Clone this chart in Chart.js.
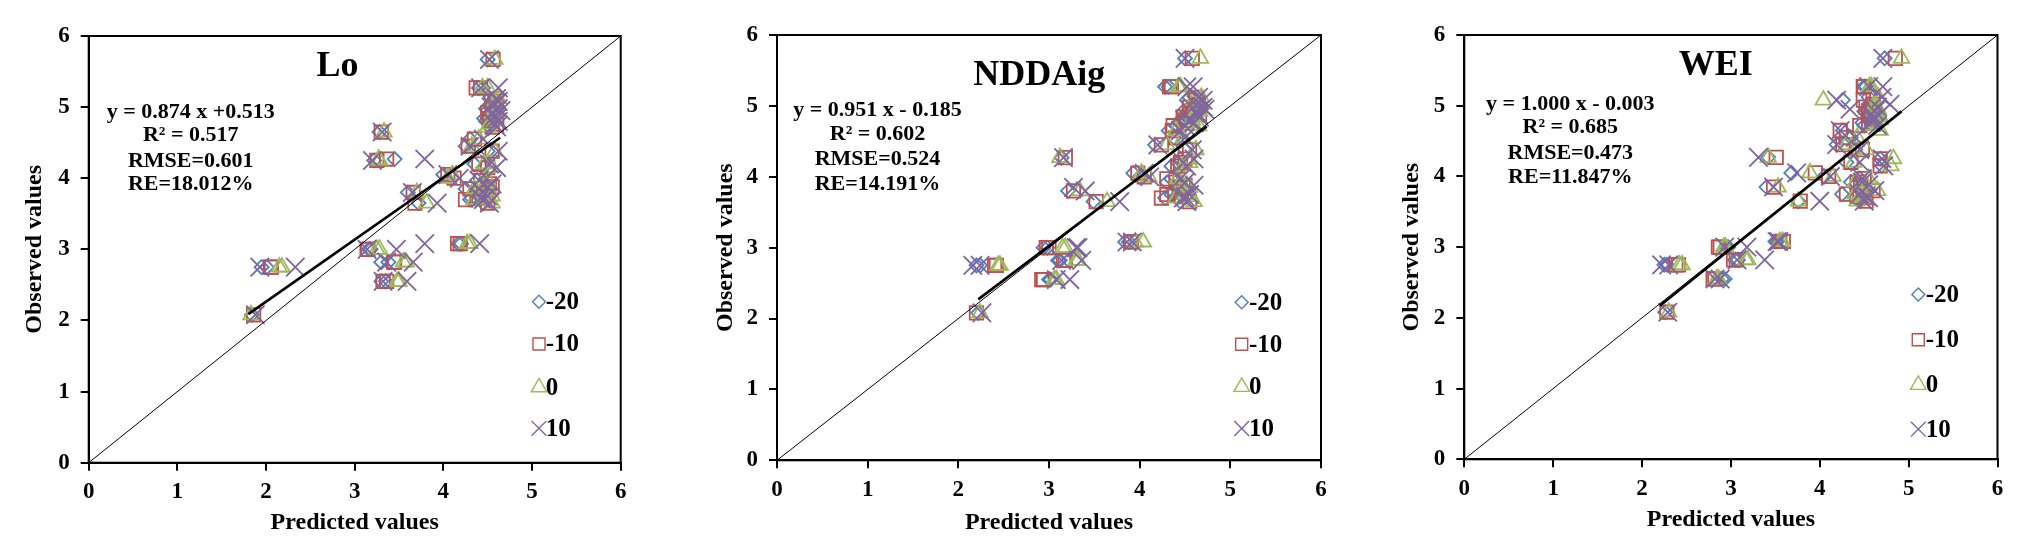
<!DOCTYPE html>
<html>
<head>
<meta charset="utf-8">
<title>Observed vs predicted</title>
<script src="https://cdn.jsdelivr.net/npm/chart.js@4.4.1/dist/chart.umd.min.js"></script>
<style>
  html, body { margin: 0; padding: 0; background: #fff; }
  body { width: 2032px; height: 557px; position: relative; overflow: hidden; }
  canvas { position: absolute; top: 0; }
</style>
</head>
<body>
<canvas id="lo"></canvas>
<canvas id="nddaig"></canvas>
<canvas id="wei"></canvas>
<script>
'use strict';

//// ===== Data ===== ////
// observed values, shared by every panel and series
const observed = [5.67, 5.27, 5.27, 5.08, 5.02, 4.95, 4.88, 4.80, 4.72, 4.65, 4.45, 4.38, 4.27, 4.25, 4.15, 4.05, 4.00, 3.92,
    3.85, 3.80, 3.75, 3.70, 3.65, 3.65, 3.08, 3.08, 3.00, 3.00, 2.82, 2.82, 2.75, 2.75, 2.55, 2.55, 2.08,
    5.12, 4.98, 4.92, 4.84, 4.76, 4.55, 4.20, 3.97, 3.88, 3.72];

// Lo - predicted values per series
const loM20 = [4.50, 4.40, 4.45, 4.55, 4.52, 4.50, 4.55, 4.48, 4.52, 3.28, 4.25, 4.50, 3.45, 3.22, 4.45, 4.00, 4.10, 4.45,
    4.25, 3.60, 4.40, 4.30, 3.72, 4.45, 4.17, 4.20, 3.16, 3.18, 3.30, 3.38, 2.01, 1.95, 3.30, 3.35, 1.84,
    4.52, 4.48, 4.58, 4.46, 4.55, 4.30, 4.35, 4.38, 4.48, 4.32];
const loM10 = [4.56, 4.37, 4.42, 4.60, 4.58, 4.56, 4.60, 4.52, 4.55, 3.30, 4.28, 4.55, 3.36, 3.25, 4.50, 4.05, 4.12, 4.52,
    4.30, 3.66, 4.48, 4.25, 3.68, 4.50, 4.16, 4.19, 3.14, 3.15, 3.44, 3.45, 2.06, 2.05, 3.32, 3.36, 1.86,
    4.58, 4.55, 4.50, 4.52, 4.60, 4.35, 4.40, 4.42, 4.55, 4.38];
const lo0 = [4.58, 4.44, 4.50, 4.58, 4.62, 4.60, 4.55, 4.58, 4.50, 3.33, 4.32, 4.58, 3.27, 3.28, 4.55, 4.10, 4.05, 4.48,
    4.35, 3.70, 4.55, 4.35, 3.81, 4.55, 4.27, 4.30, 3.25, 3.28, 3.55, 3.58, 2.18, 2.15, 3.50, 3.48, 1.83,
    4.62, 4.58, 4.62, 4.56, 4.52, 4.40, 4.46, 4.50, 4.42, 4.46];
const loP10 = [4.52, 4.42, 4.62, 4.62, 4.55, 4.65, 4.58, 4.62, 4.60, 3.31, 4.30, 4.62, 3.79, 3.20, 4.60, 4.05, 4.18, 4.55,
    4.40, 3.65, 4.50, 4.45, 3.93, 4.52, 4.41, 3.79, 3.14, 3.47, 3.36, 3.66, 1.93, 2.33, 3.32, 3.59, 1.88,
    4.60, 4.62, 4.55, 4.60, 4.58, 4.45, 4.52, 4.40, 4.50, 4.42];

// NDDAig
const ndM20 = [4.50, 4.28, 4.32, 4.52, 4.58, 4.55, 4.62, 4.45, 4.40, 4.32, 4.17, 4.50, 3.14, 4.45, 4.35, 3.93, 4.00, 4.30,
    4.40, 3.21, 4.35, 4.28, 3.49, 4.45, 3.84, 3.88, 2.94, 2.98, 3.10, 3.12, 2.24, 2.20, 3.00, 3.02, 2.22,
    4.55, 4.60, 4.48, 4.52, 4.45, 4.38, 4.42, 4.35, 4.42, 4.40];
const ndM10 = [4.58, 4.33, 4.35, 4.62, 4.65, 4.60, 4.66, 4.50, 4.37, 4.36, 4.24, 4.55, 3.18, 4.50, 4.42, 3.98, 4.05, 4.40,
    4.48, 3.27, 4.30, 4.24, 3.52, 4.55, 3.91, 3.90, 2.97, 3.00, 3.16, 3.18, 2.40, 2.42, 2.92, 2.94, 2.20,
    4.62, 4.55, 4.58, 4.48, 4.52, 4.40, 4.45, 4.30, 4.50, 4.46];
const nd0 = [4.67, 4.43, 4.45, 4.60, 4.68, 4.65, 4.60, 4.58, 4.65, 4.40, 4.30, 4.62, 3.12, 4.55, 4.48, 4.02, 4.10, 4.45,
    4.55, 3.34, 4.50, 4.40, 3.64, 4.60, 4.04, 3.95, 3.18, 3.15, 3.32, 3.30, 2.46, 2.44, 3.08, 3.06, 2.24,
    4.68, 4.62, 4.66, 4.60, 4.58, 4.48, 4.55, 4.42, 4.52, 4.55];
const ndP10 = [4.50, 4.52, 4.59, 4.70, 4.62, 4.72, 4.65, 4.55, 4.50, 4.45, 4.20, 4.58, 3.16, 4.60, 4.52, 4.05, 4.11, 4.50,
    3.27, 3.40, 4.55, 4.48, 3.78, 4.52, 3.86, 3.92, 3.32, 3.30, 3.14, 3.36, 2.16, 2.24, 3.08, 3.23, 2.26,
    4.65, 4.70, 4.62, 4.66, 4.60, 4.50, 4.48, 4.45, 4.60, 4.50];

// WEI
const weiM20 = [4.73, 4.50, 4.52, 4.26, 4.55, 4.52, 4.60, 4.55, 4.50, 4.26, 4.19, 4.40, 3.42, 4.68, 4.70, 3.68, 4.05, 4.35,
    3.40, 4.55, 4.25, 4.40, 3.76, 4.45, 3.50, 3.52, 2.97, 2.95, 3.05, 3.08, 2.28, 2.25, 2.93, 2.90, 2.26,
    4.55, 4.58, 4.50, 4.62, 4.48, 4.35, 4.30, 4.45, 4.40, 4.48];
const weiM10 = [4.85, 4.49, 4.50, 4.49, 4.60, 4.58, 4.55, 4.62, 4.45, 4.23, 4.26, 4.48, 3.51, 4.68, 4.68, 3.95, 4.10, 4.42,
    3.48, 4.60, 4.30, 4.50, 3.78, 4.52, 3.59, 3.55, 2.86, 2.88, 3.03, 3.06, 2.41, 2.38, 2.80, 2.82, 2.28,
    4.60, 4.52, 4.56, 4.58, 4.55, 4.30, 4.35, 4.50, 4.46, 4.42];
const wei0 = [4.92, 4.56, 4.58, 4.04, 4.62, 4.66, 4.62, 4.68, 4.60, 4.68, 4.30, 4.52, 3.42, 4.83, 4.80, 3.89, 4.15, 4.40,
    3.53, 4.65, 4.40, 4.48, 3.76, 4.42, 3.55, 3.58, 2.92, 2.94, 3.19, 3.17, 2.45, 2.42, 2.84, 2.86, 2.30,
    4.66, 4.62, 4.60, 4.68, 4.62, 4.42, 4.38, 4.55, 4.52, 4.50];
const weiP10 = [4.71, 4.55, 4.71, 4.19, 4.79, 4.34, 4.58, 4.60, 4.65, 4.23, 4.19, 4.45, 3.31, 4.70, 4.72, 3.74, 4.12, 4.48,
    3.48, 4.62, 4.45, 4.55, 4.00, 4.50, 3.52, 3.54, 2.93, 3.18, 3.07, 3.38, 2.22, 2.30, 2.82, 2.88, 2.29,
    4.70, 4.65, 4.62, 4.60, 4.58, 4.40, 4.45, 4.48, 4.55, 4.52];

// fitted line end points as drawn
const fitX = [[1.80, 4.64], [2.22, 4.74], [2.20, 4.92]];
const fitY = [[2.09, 4.57], [2.27, 4.71], [2.17, 4.92]];

const seriesNames = ['-20', '-10', '0', '10'];
const axisTicks = [0, 1, 2, 3, 4, 5, 6];
const titles = ['Lo', 'NDDAig', 'WEI'];
const stats = [
    ['y = 0.874 x +0.513', 'R\u00B2 = 0.517', 'RMSE=0.601', 'RE=18.012%'],
    ['y = 0.951 x - 0.185', 'R\u00B2 = 0.602', 'RMSE=0.524', 'RE=14.191%'],
    ['y = 1.000 x - 0.003', 'R\u00B2 = 0.685', 'RMSE=0.473', 'RE=11.847%']
];

//// ===== Look ===== ////
const FONT = '"Liberation Serif", "Times New Roman", serif';
const seriesColors = ['#4F81BD', '#C0504D', '#9BBB59', '#8064A2'];
const seriesStyles = ['rectRot', 'rect', 'triangle', 'crossRot'];
const seriesRadius = [7, 9.5, 9, 13];
const legendRadius = [6.5, 8.5, 9, 10.5];

// placement of each panel on the page, px
const layouts = [
    {id: 'lo', left: 0, width: 680, axisW: 88.7, padR: 59.3, padT: 36, axisH: 94.3, yTitlePad: 20.6, xTitlePad: 19.8,
        titleX: 248.8, titleY: 39.7, statX: 102, statY: [76, 99, 125.7, 148],
        legX: 450.3, legTextX: 457, legY: [265.7, 308, 351.3, 392.3]},
    {id: 'nddaig', left: 690, width: 680, axisW: 87, padR: 49, padT: 35, axisH: 96.7, yTitlePad: 21.3, xTitlePad: 19.8,
        titleX: 262.2, titleY: 50, statX: 100.5, statY: [75, 99.4, 124, 148.9],
        legX: 464.7, legTextX: 472, legY: [267.3, 309.2, 351.9, 393.5]},
    {id: 'wei', left: 1380, width: 652, axisW: 84.3, padR: 34.5, padT: 35, axisH: 97.7, yTitlePad: 17.2, xTitlePad: 22.9,
        titleX: 251.5, titleY: 40, statX: 106, statY: [69.6, 92.7, 118.2, 142.4],
        legX: 454, legTextX: 461.4, legY: [259.4, 304.8, 349.9, 394.2]}
];

const panelSeries = [
    [loM20, loM10, lo0, loP10],
    [ndM20, ndM10, nd0, ndP10],
    [weiM20, weiM10, wei0, weiP10]
];

function drawMarker(ctx, style, x, y, r) {
    const s = r * Math.SQRT1_2;
    ctx.beginPath();
    if (style === 'rectRot') {
        ctx.moveTo(x - r, y); ctx.lineTo(x, y - r); ctx.lineTo(x + r, y); ctx.lineTo(x, y + r); ctx.closePath();
    } else if (style === 'rect') {
        ctx.rect(x - s, y - s, 2 * s, 2 * s);
    } else if (style === 'triangle') {
        ctx.moveTo(x, y - r); ctx.lineTo(x + r * 0.866, y + r / 2); ctx.lineTo(x - r * 0.866, y + r / 2); ctx.closePath();
    } else {
        ctx.moveTo(x - s, y - s); ctx.lineTo(x + s, y + s);
        ctx.moveTo(x + s, y - s); ctx.lineTo(x - s, y + s);
    }
    ctx.stroke();
}

// frame, title, stats and the legend inside the plot
function decor(p, L) {
    return {
        id: 'decor' + p,
        afterDraw(chart) {
            const ctx = chart.ctx;
            const a = chart.chartArea;
            ctx.save();
            ctx.strokeStyle = '#000';
            ctx.lineWidth = 2;
            ctx.strokeRect(a.left, a.top, a.right - a.left, a.bottom - a.top);

            ctx.fillStyle = '#000';
            ctx.textAlign = 'center';
            ctx.textBaseline = 'alphabetic';
            ctx.font = 'bold 36px ' + FONT;
            ctx.fillText(titles[p], a.left + L.titleX, a.top + L.titleY);

            ctx.textBaseline = 'middle';
            ctx.font = 'bold 22px ' + FONT;
            stats[p].forEach((t, i) => ctx.fillText(t, a.left + L.statX, a.top + L.statY[i]));

            ctx.textAlign = 'left';
            ctx.font = 'bold 25px ' + FONT;
            ctx.lineWidth = 1.4;
            seriesNames.forEach((name, i) => {
                ctx.strokeStyle = seriesColors[i];
                drawMarker(ctx, seriesStyles[i], a.left + L.legX, a.top + L.legY[i], legendRadius[i]);
                ctx.fillText(name, a.left + L.legTextX, a.top + L.legY[i] + 1);
            });
            ctx.restore();
        }
    };
}

function axisOptions(L, horizontal) {
    return {
        type: 'linear',
        min: axisTicks[0],
        max: axisTicks[axisTicks.length - 1],
        afterFit(s) {
            if (horizontal) s.height = L.axisH; else s.width = L.axisW;
        },
        afterBuildTicks(s) {
            s.ticks = axisTicks.map(v => ({value: v}));
        },
        ticks: {
            color: '#000',
            font: {family: FONT, size: 23, weight: 'bold'},
            padding: horizontal ? 8 : 11,
            maxRotation: 0,
            autoSkip: false
        },
        grid: {drawOnChartArea: false, drawTicks: true, tickLength: 8, color: '#000', lineWidth: 2},
        border: {display: true, color: '#000', width: 2},
        title: {
            display: true,
            text: horizontal ? 'Predicted values' : 'Observed values',
            color: '#000',
            font: {family: FONT, size: 24, weight: 'bold'},
            padding: horizontal ? {top: 0, bottom: L.xTitlePad} : {top: L.yTitlePad, bottom: 0}
        }
    };
}

layouts.forEach((L, p) => {
    const canvas = document.getElementById(L.id);
    canvas.width = L.width;
    canvas.height = 557;
    canvas.style.left = L.left + 'px';

    const datasets = panelSeries[p].map((xs, i) => ({
        label: seriesNames[i],
        data: xs.map((x, k) => ({x: x, y: observed[k]})),
        pointStyle: seriesStyles[i],
        pointRadius: seriesRadius[i],
        pointBorderColor: seriesColors[i],
        pointBackgroundColor: 'rgba(0,0,0,0)',
        pointBorderWidth: 1.8,
        showLine: false,
        order: 4 - i
    }));
    // 1:1 line
    datasets.push({
        label: '1:1',
        data: [{x: axisTicks[0], y: axisTicks[0]}, {x: axisTicks[6], y: axisTicks[6]}],
        showLine: true, borderColor: '#000', borderWidth: 1, pointRadius: 0, order: 0
    });
    // fitted line
    datasets.push({
        label: 'fit',
        data: fitX[p].map((x, k) => ({x: x, y: fitY[p][k]})),
        showLine: true, borderColor: '#000', borderWidth: 2.6, pointRadius: 0, order: 0
    });

    new Chart(canvas, {
        type: 'scatter',
        data: {datasets: datasets},
        options: {
            responsive: false,
            animation: false,
            layout: {padding: {left: 0, right: L.padR, top: L.padT, bottom: 0}},
            plugins: {legend: {display: false}, tooltip: {enabled: false}},
            scales: {
                x: axisOptions(L, true),
                y: axisOptions(L, false)
            }
        },
        plugins: [decor(p, L)]
    });
});
</script>
</body>
</html>
